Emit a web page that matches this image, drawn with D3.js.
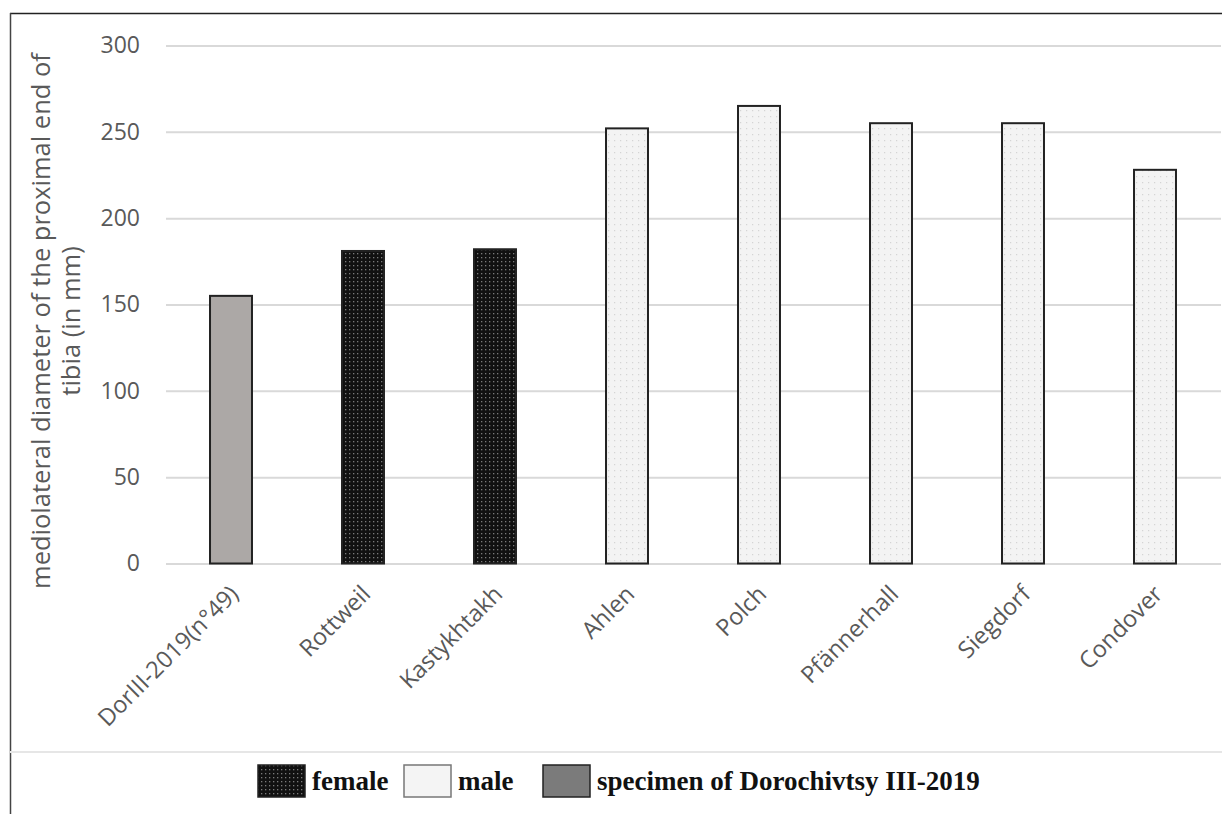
<!DOCTYPE html>
<html><head><meta charset="utf-8">
<script src="https://cdn.jsdelivr.net/npm/d3@7"></script>
<style>
html,body{margin:0;padding:0;background:#fff;}
svg{display:block;}
</style></head>
<body>
<svg id="chart" width="1222" height="814"></svg>
<script>
const categories = ["DorIII-2019(n°49)", "Rottweil", "Kastykhtakh", "Ahlen", "Polch", "Pfännerhall", "Siegdorf", "Condover"];
const values = [155, 181, 182, 252, 265, 255, 255, 228];
const groups = ["specimen", "female", "female", "male", "male", "male", "male", "male"];
const yTicks = [0, 50, 100, 150, 200, 250, 300];
const legendItems = [["female", "female"], ["male", "male"], ["specimen", "specimen of Dorochivtsy III-2019"]];
const yTitle = ["mediolateral diameter of the proximal end of", "tibia (in mm)"];

const svg = d3.select("#chart");
const defs = svg.append("defs");
const FONT = "'Open Sans', Lato, sans-serif";

// patterns
const pf = defs.append("pattern").attr("id","pat-female").attr("patternUnits","userSpaceOnUse").attr("width",4).attr("height",4);
pf.append("rect").attr("width",4).attr("height",4).attr("fill","#111");
pf.append("rect").attr("x",1).attr("y",1).attr("width",1.3).attr("height",1.3).attr("fill","#7a7a7a");
const pm = defs.append("pattern").attr("id","pat-male").attr("patternUnits","userSpaceOnUse").attr("width",6).attr("height",6);
pm.append("rect").attr("width",6).attr("height",6).attr("fill","#f3f3f3");
pm.append("rect").attr("x",2).attr("y",2).attr("width",1.2).attr("height",1.2).attr("fill","#d4d4d4");

const fills = {female:"url(#pat-female)", male:"url(#pat-male)", specimen:"#aca8a6"};
const legendFills = {female:"url(#pat-female)", male:"#f4f4f4", specimen:"#7b7b7b"};

// frame
svg.append("line").attr("x1",10).attr("x2",1222).attr("y1",13.5).attr("y2",13.5).attr("stroke","#222").attr("stroke-width",1.5);
svg.append("line").attr("x1",10.5).attr("x2",10.5).attr("y1",13).attr("y2",814).attr("stroke","#444").attr("stroke-width",1.5);
svg.append("line").attr("x1",10).attr("x2",1222).attr("y1",752).attr("y2",752).attr("stroke","#e6e6e6").attr("stroke-width",2);

const x = d3.scaleBand().domain(categories).range([165, 1221]).paddingInner(0.682).paddingOuter(0.341);
const y = d3.scaleLinear().domain([0, 300]).range([563.5, 45.5]);

// grid
const grid = svg.append("g").attr("transform","translate(166,0)")
  .call(d3.axisLeft(y).tickValues(yTicks).tickSize(-(1221-166)).tickFormat(""));
grid.select(".domain").remove();
grid.selectAll(".tick line").attr("stroke","#d9d9d9").attr("stroke-width",2);

// y labels
const yl = svg.append("g").attr("transform","translate(166,0)")
  .call(d3.axisLeft(y).tickValues(yTicks).tickSize(0).tickPadding(26));
yl.select(".domain").remove();
yl.selectAll("text").attr("font-family",FONT).attr("font-size",23).attr("fill","#595959");

// bars
svg.append("g").selectAll("rect").data(categories).join("rect")
  .attr("x", d => x(d))
  .attr("y", (d,i) => y(values[i]))
  .attr("width", x.bandwidth())
  .attr("height", (d,i) => y(0) - y(values[i]))
  .attr("fill", (d,i) => fills[groups[i]])
  .attr("stroke", "#222")
  .attr("stroke-width", 2);

// x labels
const xl = svg.append("g").attr("transform","translate(0,563.5)")
  .call(d3.axisBottom(x).tickSize(0).tickPadding(0));
xl.select(".domain").remove();
xl.selectAll("text")
  .attr("font-family",FONT).attr("font-size",23.5).attr("fill","#595959")
  .attr("text-anchor","end").attr("dy",0)
  .attr("transform","translate(9,32) rotate(-45)");

// y title
const yt = svg.append("text").attr("transform","translate(50,321) rotate(-90)")
  .attr("text-anchor","middle").attr("font-family",FONT).attr("font-size",25.5).attr("fill","#595959");
yTitle.forEach((t,i) => yt.append("tspan").attr("x",0).attr("dy", i===0 ? 0 : 30).text(t));

// legend
const lg = svg.append("g").attr("font-family","'Liberation Serif', 'Times New Roman', serif").attr("font-weight","bold").attr("font-size",27).attr("fill","#111");
const legX = [258, 404, 543];
legendItems.forEach((it,i) => {
  lg.append("rect").attr("x",legX[i]).attr("y",765).attr("width",47).attr("height",32)
    .attr("fill",legendFills[it[0]]).attr("stroke", it[0]==="male" ? "#777" : "#222").attr("stroke-width",1.5);
  lg.append("text").attr("x",legX[i]+54).attr("y",790).text(it[1]);
});
</script>
</body></html>
